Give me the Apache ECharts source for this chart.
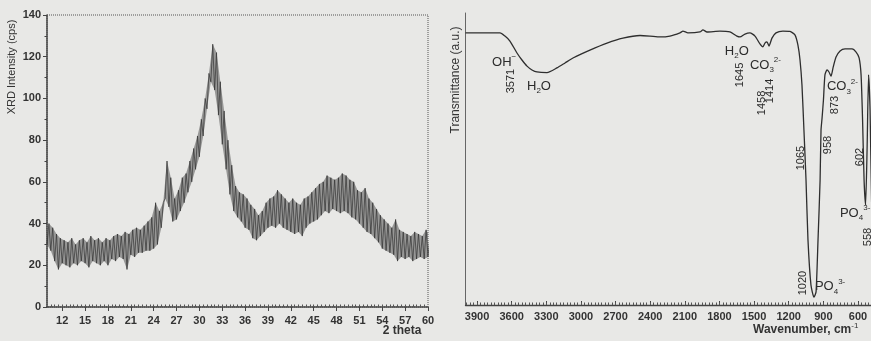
<!DOCTYPE html>
<html><head><meta charset="utf-8">
<script src="https://cdn.jsdelivr.net/npm/echarts@6/dist/echarts.min.js"></script>
<style>html,body{margin:0;padding:0;background:#e8e8e6;}#c{width:871px;height:341px;}</style>
</head><body><div id="c"></div>
<script>
// ---------- XRD (left) ----------
const xrdStart = 10, xrdStep = 0.5;            // 2 theta of first sample, step
const xrdLow = [30,27,22,18,21,20,19,21,20,22,
 21,19,22,21,20,22,20,23,22,24,
 23,18,25,24,26,26,27,27,28,30,
 38,52,48,41,42,46,50,55,60,66,
 72,82,95,108,104,92,78,66,54,46,
 43,41,38,37,33,32,34,36,38,39,
 38,40,38,37,36,35,36,34,38,40,
 41,42,44,46,45,47,46,45,46,45,
 43,42,40,38,36,35,33,31,28,27,
 26,25,22,24,23,24,22,23,24,23,
 24];
const xrdHigh = [40,38,35,33,32,31,33,30,32,33,
 31,34,32,33,31,33,32,34,35,34,
 36,35,37,38,37,39,41,43,50,46,
 50,70,62,52,56,62,64,70,76,82,
 90,100,112,126,122,108,94,80,68,58,
 55,54,52,49,47,44,46,50,52,53,
 56,54,52,50,52,50,49,52,53,55,
 57,59,60,63,62,61,62,64,63,61,
 60,56,55,57,52,50,47,44,42,40,
 38,42,37,36,35,34,36,35,34,37,
 34];
const xrdTickLabels = [12,15,18,21,24,27,30,33,36,39,42,45,48,51,54,57,60];

// ---------- FTIR (right) ----------
const ftirWavenumber = [4000,3701,3658,3615,3554,3511,3467,3424,3381,3294,
 3208,3138,3069,2922,2774,2636,2488,2402,2315,2229,
 2142,2116,2073,1969,1943,1908,1796,1709,1649,1622,
 1579,1536,1492,1449,1423,1406,1388,1371,1345,1310,
 1250,1189,1146,1120,1102,1085,1068,1050,1033,1007,
 981,963,946,928,920,911,899,886,868,851,
 833,816,790,755,712,651,616,590,573,560,
 547,534,521,508,495,482,469,440,400];
const ftirTransmittance = [93.2,93.2,92.1,90.4,86.3,83.9,81.8,80.5,79.8,79.6,
 81.2,82.9,84.6,87.3,89.7,91.4,92.3,92.1,91.8,92.1,
 93.2,93.8,93.2,93.5,94.2,93.5,93.8,93.5,92.1,91.8,
 92.8,93.2,92.1,89.4,88.4,89.7,90.1,88.7,91.4,93.2,
 93.8,93.7,92.5,89,83.9,75.3,59.9,42.8,22.3,6.8,
 2.7,4.5,22.3,42.8,59.9,64,70.2,78.8,80.5,79.8,
 78.4,81.2,84.9,87,87.7,87.7,86.6,84.6,78.8,63.4,
 42.8,34.2,53.1,78.8,66.8,36,25.7,40,55];
const ftirTickLabels = [3900,3600,3300,3000,2700,2400,2100,1800,1500,1200,900,600];

// band annotations, anchored in data coordinates (wavenumber, transmittance)
const ftirNotes = [
 {t:'{m|OH}{p|\u2212}', w:3770, v:83.2, rot:0},
 {t:'3571', w:3606, v:76.7, rot:1},
 {t:'{m|H}{s|2}{m|O}', w:3467, v:75, rot:0},
 {t:'{m|H}{s|2}{m|O}', w:1753, v:87, rot:0},
 {t:'1645', w:1622, v:78.8, rot:1},
 {t:'{m|CO}{s|3}{p|2-}', w:1536, v:82.2, rot:0},
 {t:'1458', w:1432, v:69.2, rot:1},
 {t:'1414', w:1358, v:73.3, rot:1},
 {t:'1065', w:1094, v:50.3, rot:1},
 {t:'958', w:864, v:54.8, rot:1},
 {t:'{m|CO}{s|3}{p|2-}', w:869, v:74.7, rot:0},
 {t:'873', w:799, v:68.5, rot:1},
 {t:'602', w:583, v:50.7, rot:1},
 {t:'{m|PO}{s|4}{p|3-}', w:756, v:31.5, rot:0},
 {t:'558', w:514, v:23.3, rot:1},
 {t:'1020', w:1077, v:7.5, rot:1},
 {t:'{m|PO}{s|4}{p|3-}', w:973, v:6.2, rot:0}
];

// ---------- build ----------
const FONT = 'Liberation Sans, Arial, sans-serif';
const INK = '#2b2b2b';
const xrdData = [], bandData = [];
for (let i = 0; i < xrdLow.length; i++) {
  const th = xrdStart + i * xrdStep;
  xrdData.push([th, xrdLow[i]]);
  xrdData.push([th + xrdStep / 2, xrdHigh[i]]);
  bandData.push([th, xrdLow[i], xrdHigh[i]]);
}
const ftirData = ftirWavenumber.map((w, i) => [w, ftirTransmittance[i]]);
const xrdMinor = []; for (let v = 10.5; v < 60; v += 0.5) xrdMinor.push(v);
const ftirMinor = []; for (let v = 510; v < 4000; v += 30) ftirMinor.push(v);

const tickLabel = {fontFamily: FONT, fontSize: 11, fontWeight: 'bold', color: '#333', formatter: v => String(v)};
const rich = {
  m: {fontFamily: FONT, fontSize: 13, lineHeight: 18, fill: INK, color: INK},
  s: {fontFamily: FONT, fontSize: 8, lineHeight: 18, verticalAlign: 'bottom', fill: INK, color: INK},
  p: {fontFamily: FONT, fontSize: 8, lineHeight: 18, verticalAlign: 'top', fill: INK, color: INK}
};

function renderBand(params, api) {
  if (params.dataIndex !== 0) return null;
  const top = [], bot = [];
  for (let i = 0; i < bandData.length; i++) {
    bot.push(api.coord([bandData[i][0], bandData[i][1]]));
    top.push(api.coord([bandData[i][0] + xrdStep / 2, bandData[i][2]]));
  }
  return {type: 'polygon', shape: {points: bot.concat(top.reverse())},
          style: {fill: 'rgba(70,70,70,0.5)'}, silent: true};
}

const chart = echarts.init(document.getElementById('c'), null, {renderer: 'canvas'});
chart.setOption({
  animation: false,
  backgroundColor: '#e8e8e6',
  grid: [
    {left: 47, top: 15, width: 381, height: 292, show: true, borderColor: '#555', borderWidth: 1, borderType: 'dotted', backgroundColor: 'transparent'},
    {left: 465.5, top: 13, right: 0, height: 292}
  ],
  xAxis: [
    {type: 'value', gridIndex: 0, min: 10, max: 60, position: 'bottom',
     axisLine: {lineStyle: {color: '#444', width: 1.5}},
     axisTick: {show: true, customValues: xrdTickLabels, length: 4, lineStyle: {color: '#444'}},
     axisLabel: {customValues: xrdTickLabels, margin: 8, ...tickLabel},
     splitLine: {show: false}},
    {type: 'value', gridIndex: 0, min: 10, max: 60, position: 'bottom',
     axisLine: {show: false}, axisLabel: {show: false}, splitLine: {show: false},
     axisTick: {show: true, inside: true, customValues: xrdMinor, length: 2.5, lineStyle: {color: '#555'}}},
    {type: 'value', gridIndex: 1, min: 487, max: 4000, inverse: true, position: 'bottom',
     axisLine: {lineStyle: {color: '#444', width: 1.3}},
     axisTick: {show: true, customValues: ftirTickLabels, length: 4, inside: true, lineStyle: {color: '#444'}},
     axisLabel: {customValues: ftirTickLabels, margin: 6, ...tickLabel},
     splitLine: {show: false}},
    {type: 'value', gridIndex: 1, min: 487, max: 4000, inverse: true, position: 'bottom',
     axisLine: {show: false}, axisLabel: {show: false}, splitLine: {show: false},
     axisTick: {show: true, inside: true, customValues: ftirMinor, length: 2.5, lineStyle: {color: '#555'}}}
  ],
  yAxis: [
    {type: 'value', gridIndex: 0, min: 0, max: 140, interval: 20,
     axisLine: {show: true, lineStyle: {color: '#444', width: 1.5}},
     axisTick: {show: true, length: 4, lineStyle: {color: '#444'}},
     minorTick: {show: true, splitNumber: 2, length: 2.5, lineStyle: {color: '#444'}},
     axisLabel: {margin: 6, ...tickLabel},
     splitLine: {show: false}},
    {type: 'value', gridIndex: 1, min: 0, max: 100,
     axisLine: {show: true, lineStyle: {color: '#666', width: 1}},
     axisTick: {show: false}, axisLabel: {show: false}, splitLine: {show: false}}
  ],
  series: [
    {type: 'custom', xAxisIndex: 0, yAxisIndex: 0, data: bandData, encode: {x: 0, y: [1, 2]},
     renderItem: renderBand, silent: true, clip: true},
    {type: 'line', xAxisIndex: 0, yAxisIndex: 0, data: xrdData, symbol: 'none',
     lineStyle: {color: '#2f2f2f', width: 0.8, opacity: 0.85}},
    {type: 'line', xAxisIndex: 2, yAxisIndex: 1, data: ftirData, symbol: 'none', smooth: 0.2,
     lineStyle: {color: '#2e2e2e', width: 1.3}}
  ]
});

const g = [
  {type: 'text', x: 12, y: 67, rotation: Math.PI / 2,
   style: {text: 'XRD Intensity (cps)', fontFamily: FONT, fontSize: 11, fill: '#333', align: 'center', verticalAlign: 'middle'}},
  {type: 'text', x: 402, y: 331,
   style: {text: '2 theta', fontFamily: FONT, fontSize: 12, fontWeight: 'bold', fill: '#333', align: 'center', verticalAlign: 'middle'}},
  {type: 'text', x: 456, y: 80, rotation: Math.PI / 2,
   style: {text: 'Transmittance (a.u.)', fontFamily: FONT, fontSize: 12, fill: '#333', align: 'center', verticalAlign: 'middle'}},
  {type: 'text', x: 753, y: 330,
   style: {text: '{w|Wavenumber, cm}{p|-1}', rich: {
     w: {fontFamily: FONT, fontSize: 12, fontWeight: 'bold', lineHeight: 16, fill: '#333', color: '#333'},
     p: {fontFamily: FONT, fontSize: 8, lineHeight: 16, verticalAlign: 'top', fill: '#333', color: '#333'}},
     align: 'left', verticalAlign: 'middle'}}
];
ftirNotes.forEach(n => {
  const p = chart.convertToPixel({xAxisIndex: 2, yAxisIndex: 1}, [n.w, n.v]);
  if (n.rot) {
    g.push({type: 'text', x: p[0], y: p[1], rotation: Math.PI / 2,
      style: {text: n.t, fontFamily: FONT, fontSize: 11, fill: INK, align: 'center', verticalAlign: 'middle'}});
  } else {
    g.push({type: 'text', x: p[0], y: p[1],
      style: {text: n.t, rich: rich, fill: INK, align: 'left', verticalAlign: 'middle'}});
  }
});
chart.setOption({graphic: g});
</script>
</body></html>
